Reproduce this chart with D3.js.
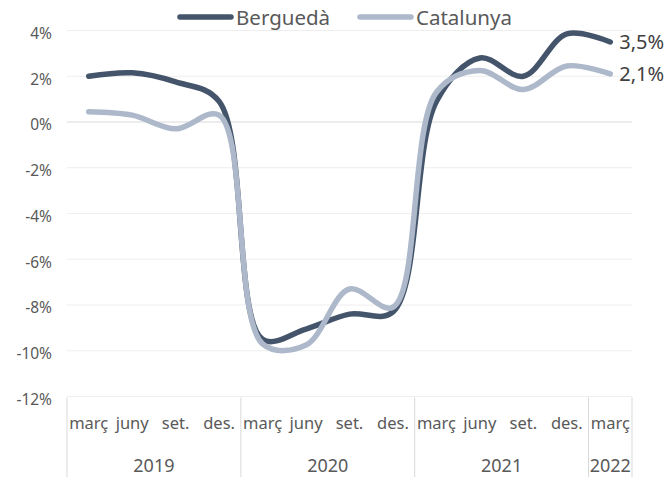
<!DOCTYPE html>
<html>
<head>
<meta charset="utf-8">
<script src="https://cdn.jsdelivr.net/npm/d3@7"></script>
<style>
  body { margin: 0; background: #fff; }
  svg { display: block; font-family: "Noto Sans", sans-serif; }
</style>
</head>
<body>
<div id="chart"></div>
<script>
// quarterly labels, grouped by year
var monthLabels = ['març', 'juny', 'set.', 'des.',
                   'març', 'juny', 'set.', 'des.',
                   'març', 'juny', 'set.', 'des.',
                   'març'];
var yearLabels = ['2019', '2020', '2021', '2022'];
var yearOfMonth = [0, 0, 0, 0, 1, 1, 1, 1, 2, 2, 2, 2, 3];

var bergueda = [2.0, 2.15, 1.75, 0.9, -9.5, -9.05, -8.4, -8.3, 0.9, 2.8, 2.0, 3.85, 3.5];
var catalunya = [0.45, 0.3, -0.3, 0.3, -9.7, -9.75, -7.3, -8.1, 1.3, 2.25, 1.42, 2.45, 2.1];

var yTicks = [-12, -10, -8, -6, -4, -2, 0, 2, 4];

var series = [
  { name: 'Berguedà', values: bergueda, color: '#44546a', label: '3,5%' },
  { name: 'Catalunya', values: catalunya, color: '#adb9ca', label: '2,1%' }
];

var width = 668;
var height = 477;
var plotLeft = 67, plotRight = 632, plotTop = 30.5, plotBottom = 396.5;

var svg = d3.select('#chart').append('svg')
  .attr('width', width)
  .attr('height', height);

var x = d3.scaleBand().domain(d3.range(monthLabels.length)).range([plotLeft, plotRight]);
var y = d3.scaleLinear().domain([-12, 4]).range([plotBottom, plotTop]);
var bw = x.bandwidth();

// gridlines
svg.append('g').attr('class', 'grid')
  .selectAll('line').data(yTicks)
  .enter().append('line')
  .attr('x1', plotLeft)
  .attr('x2', plotRight)
  .attr('y1', function(d) { return y(d); })
  .attr('y2', function(d) { return y(d); })
  .attr('stroke', function(d) { return d === 0 ? '#d9d9d9' : '#eeeeee'; })
  .attr('stroke-width', 1);

// y axis labels
var yAxis = svg.append('g')
  .attr('transform', 'translate(' + plotLeft + ',0)')
  .call(d3.axisLeft(y).tickValues(yTicks).tickFormat(function(d) { return d + '%'; })
    .tickSize(0).tickPadding(15));
yAxis.select('.domain').remove();
yAxis.selectAll('text')
  .attr('dy', '0.5em')
  .attr('fill', '#595959')
  .style('font-size', '15.5px')
  .style('font-family', '"Noto Sans", sans-serif');

// x axis: month labels
var xAxis = svg.append('g')
  .attr('transform', 'translate(0,' + plotBottom + ')')
  .call(d3.axisBottom(x).tickFormat(function(i) { return monthLabels[i]; })
    .tickSize(0).tickPadding(21));
xAxis.select('.domain').remove();
xAxis.selectAll('text')
  .attr('fill', '#595959')
  .style('font-size', '16.5px')
  .style('font-family', '"Noto Sans", sans-serif');

// year groups
var years = yearLabels.map(function(label, k) {
  var idx = d3.range(monthLabels.length).filter(function(i) { return yearOfMonth[i] === k; });
  return { label: label, x0: x(idx[0]), x1: x(idx[idx.length - 1]) + bw };
});

svg.append('g').selectAll('line').data(years.map(function(d) { return d.x0; }).concat([plotRight]))
  .enter().append('line')
  .attr('x1', function(d) { return d; })
  .attr('x2', function(d) { return d; })
  .attr('y1', plotBottom + 1)
  .attr('y2', height)
  .attr('stroke', '#d9d9d9')
  .attr('stroke-width', 1);

svg.append('g').selectAll('text').data(years)
  .enter().append('text')
  .attr('x', function(d) { return (d.x0 + d.x1) / 2; })
  .attr('y', 472)
  .attr('text-anchor', 'middle')
  .attr('fill', '#595959')
  .style('font-size', '18px')
  .text(function(d) { return d.label; });

// lines (smoothed like the spreadsheet original)
var line = d3.line()
  .x(function(d, i) { return x(i) + bw / 2; })
  .y(function(d) { return y(d); })
  .curve(d3.curveCatmullRom.alpha(0.5));

svg.append('g').selectAll('path').data(series)
  .enter().append('path')
  .attr('d', function(d) { return line(d.values); })
  .attr('fill', 'none')
  .attr('stroke', function(d) { return d.color; })
  .attr('stroke-width', 5.5)
  .attr('stroke-linecap', 'round')
  .attr('stroke-linejoin', 'round');

// end labels
var last = monthLabels.length - 1;
svg.append('g').selectAll('text').data(series)
  .enter().append('text')
  .attr('x', x(last) + bw / 2 + 9)
  .attr('y', function(d) { return y(d.values[last]); })
  .attr('dy', '0.35em')
  .attr('fill', '#404040')
  .style('font-size', '20px')
  .text(function(d) { return d.label; });

// legend
var legendX = [178, 358];
var legend = svg.append('g').selectAll('g').data(series)
  .enter().append('g')
  .attr('transform', function(d, i) { return 'translate(' + legendX[i] + ',17)'; });
legend.append('line')
  .attr('x1', 2).attr('x2', 53)
  .attr('stroke', function(d) { return d.color; })
  .attr('stroke-width', 5.5)
  .attr('stroke-linecap', 'round');
legend.append('text')
  .attr('x', 58)
  .attr('y', 8)
  .attr('fill', '#595959')
  .style('font-size', '20.5px')
  .text(function(d) { return d.name; });
</script>
</body>
</html>
